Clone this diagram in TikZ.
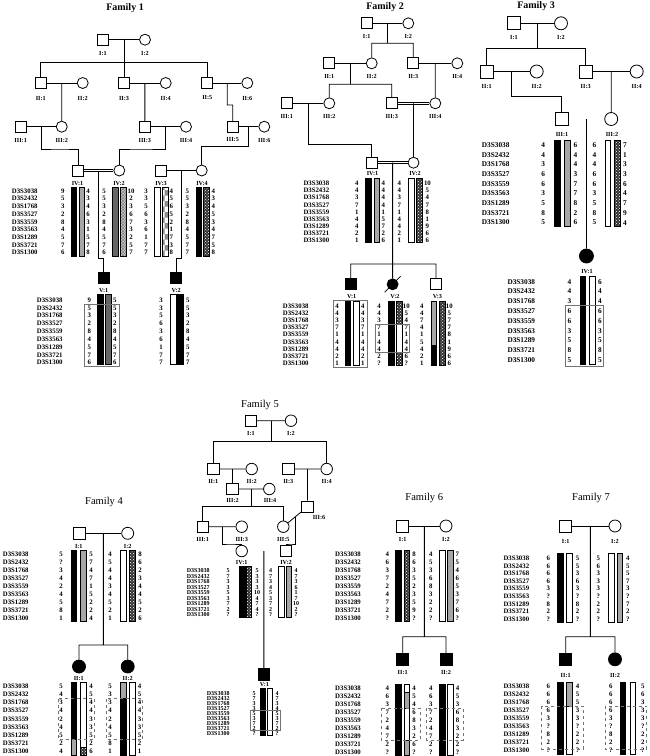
\documentclass[tikz,border=0pt]{standalone}
\usepackage{fontspec}
\setmainfont{Liberation Serif}
\usepackage{tikz}
\usetikzlibrary{patterns,calc}

\newcommand{\mkfont}{\fontsize{6.8}{7}\selectfont\bfseries}
\newcommand{\mkbig}{\fontsize{7.3}{8}\selectfont\bfseries}
\newcommand{\mksmall}{\fontsize{6}{6}\selectfont\bfseries}
% marker names, allele columns and haplotype bars
\newcommand{\mklist}[4]{%
  \foreach \mname [count=\i from 0] in {D3S3038,D3S2432,D3S1768,D3S3527,D3S3559,D3S3563,D3S1289,D3S3721,D3S1300}
    \node[mk] (#1-\i) at (#2,#3+\i*#4) {\mname};}
\newcommand{\alist}[4]{%
  \foreach \aval [count=\i from 0] in {#4}
    \node[al] at (#1,#2+\i*#3) {\aval};}
\newcommand{\hapbar}[4]{\draw[#1] (#2,#3) rectangle (#2+5.5,#4);}

\tikzset{
  ind/.style={draw, line width=0.8pt, inner sep=0pt, minimum size=11},
  male/.style={ind, rectangle},
  female/.style={ind, circle},
  aff/.style={fill=black},
  ped/.style={line width=0.8pt},
  cons/.style={double, double distance=1.4pt, line width=0.6pt},
  ttl/.style={font=\fontsize{10}{12}\selectfont\bfseries},
  ttlr/.style={font=\fontsize{10.5}{12}\selectfont},
  idl/.style={font=\fontsize{6.2}{7}\selectfont\bfseries, inner sep=0pt},
  mk/.style={font=\mkfont, anchor=west, inner sep=0pt},
  al/.style={font=\mkfont, inner sep=0pt},
  blk/.style={draw=black, line width=0.5pt, fill=black},
  wht/.style={draw=black, line width=0.6pt, fill=white},
  gry/.style={draw=black, line width=0.6pt, fill=black!35},
  dgry/.style={draw=black, line width=0.6pt, fill=black!60},
  hatch/.style={draw=black, line width=0.6pt, preaction={fill=black!80}, pattern=crosshatch dots, pattern color=white},
  lhatch/.style={draw=black, line width=0.6pt, preaction={fill=black!20}, pattern=crosshatch, pattern color=black!50},
  chk/.style={draw=black, line width=0.6pt, preaction={fill=white}, pattern=checkerboard, pattern color=black!45},
  hapbox/.style={draw=black!55, line width=0.7pt},
  dbox/.style={draw=black!55, dashed, line width=0.6pt},
}

\begin{document}
\begin{tikzpicture}[x=1pt,y=-1pt]
\useasboundingbox (0,0) rectangle (649,756);

% Family 1
\node[ttl] (t1) at (125,8) {Family 1};
\node[male] (a11) at (103,39.7) {};
\node[female] (a12) at (145,39.7) {};
\node[idl] at (103,53) {I:1};
\node[idl] at (145,53) {I:2};
\node[male] (a21) at (40.8,83) {};
\node[female] (a22) at (82.7,83) {};
\node[male] (a23) at (124,83) {};
\node[female] (a24) at (165.7,83) {};
\node[male] (a25) at (207.3,83) {};
\node[female] (a26) at (247.3,83) {};
\foreach \n/\x in {1/40.8,2/82.7,3/124,4/165.7,5/207.3,6/247.3}
  \node[idl] at (\x,98) {II:\n};
\node[male] (a31) at (20.7,126.7) {};
\node[female] (a32) at (61.75,126.7) {};
\node[male] (a33) at (144.85,126.7) {};
\node[female] (a34) at (186,126.7) {};
\node[male] (a35) at (232.7,126.7) {};
\node[female] (a36) at (264.3,126.7) {};
\foreach \n/\x in {1/20.7,2/61.75,3/144.85,4/186,5/232.7,6/264.3}
  \node[idl] at (\x,140) {III:\n};
\node[male] (a41) at (78,170.5) {};
\node[female] (a42) at (119.3,170.5) {};
\node[male] (a43) at (161,170.5) {};
\node[female] (a44) at (201.7,170.5) {};
\node[male, aff] (a51) at (103.8,278.3) {};
\node[male, aff] (a52) at (176.2,278.3) {};

\draw[ped] (a11) -- (a12) (a21) -- (a22) (a23) -- (a24) (a25) -- (a26);
\draw[ped] (a31) -- (a32) (a33) -- (a34) (a35) -- (a36) (a43) -- (a44);
\draw[cons] (a41) -- (a42);
\coordinate (a1m) at ($(a11)!0.5!(a12)$);
\coordinate (a1s) at (124,62.3);
\draw[ped] (a1m) -- (a23) (a21) |- (a1s) -| (a25);
\coordinate (a2m1) at ($(a21)!0.5!(a22)$);
\coordinate (a2m2) at ($(a23)!0.5!(a24)$);
\coordinate (a2m3) at ($(a25)!0.5!(a26)$);
\coordinate (a2j) at (230,105);
\draw[ped] (a2m1) -- (a32) (a2m2) -- (a33) (a2m3) |- (a2j) -| (a35);
\coordinate (a3m1) at ($(a31)!0.5!(a32)$);
\coordinate (a3m2) at ($(a33)!0.5!(a34)$);
\coordinate (a3m3) at ($(a35)!0.5!(a36)$);
\coordinate (a3j1) at (60,149);
\coordinate (a3j2) at (140,149);
\coordinate (a3j3) at (225,146.7);
\draw[ped] (a3m1) |- (a3j1) -| (a41) (a3m2) |- (a3j2) -| (a42) (a3m3) |- (a3j3) -| (a44);
\coordinate (a4m1) at ($(a41)!0.5!(a42)$);
\coordinate (a4m2) at ($(a43)!0.5!(a44)$);
\coordinate (a4j1) at (101,258.3);
\coordinate (a4j2) at (178,258.3);
\draw[ped] (a4m1) |- (a4j1) -| (a51) (a4m2) |- (a4j2) -| (a52);

\mklist{m1a}{11.7}{191}{7.7}
\node[idl] at (77.5,183.3) {IV:1};
\alist{62.7}{191}{7.7}{9,5,3,2,8,4,5,7,6}
\hapbar{blk}{71}{187.3}{256}
\hapbar{gry}{79}{187.3}{256}
\alist{88}{191}{7.7}{4,3,4,6,3,1,5,7,8}
\node[idl] at (119,183.3) {IV:2};
\alist{104}{191}{7.7}{5,5,3,2,8,4,5,7,6}
\hapbar{dgry}{112.5}{187.3}{256}
\hapbar{lhatch}{120.5}{187.3}{256}
\alist{131}{191}{7.7}{10,2,3,6,7,3,2,5,7}
\node[idl] at (161,183.3) {IV:3};
\alist{146}{191}{7.7}{3,3,5,6,3,6,1,7,7}
\hapbar{wht}{154.3}{187.3}{256}
\hapbar{chk}{162.3}{187.3}{256}
\alist{171.3}{191}{7.7}{4,5,6,5,2,1,7,3,8}
\node[idl] at (202,183.3) {IV:4};
\alist{187.3}{191}{7.7}{5,5,3,2,8,4,5,7,7}
\hapbar{blk}{196}{187.3}{256}
\hapbar{hatch}{203.3}{187.3}{256}
\alist{213.3}{191}{7.7}{4,3,4,5,3,4,7,5,8}

\mklist{m1b}{36.7}{300}{7.83}
\node[idl] at (103.7,290.3) {V:1};
\alist{89.3}{300}{7.83}{9,5,3,2,8,4,5,7,6}
\hapbar{blk}{97.3}{294.3}{364.3}
\hapbar{dgry}{105.3}{294.3}{364.3}
\alist{114.7}{300}{7.83}{5,5,3,2,8,4,5,7,6}
\draw[hapbox] (84.3,303.9) rectangle (119.7,366.7);
\node[idl] at (176.2,290.3) {V:2};
\alist{161}{300}{7.83}{3,3,5,6,3,6,1,7,7}
\hapbar{wht}{170.7}{294.3}{364.3}
\hapbar{blk}{177.7}{294.3}{364.3}
\alist{187.7}{300}{7.83}{5,5,3,2,8,4,5,7,7}

% Family 2
\node[ttl] (t2) at (385,7) {Family 2};
\node[male] (b11) at (366.7,23.3) {};
\node[female] (b12) at (408.3,23.3) {};
\node[idl] at (366.7,36) {I:1};
\node[idl] at (408.3,36) {I:2};
\node[male] (b21) at (329.3,63.3) {};
\node[female] (b22) at (371.7,63.3) {};
\node[male] (b23) at (413.3,63.3) {};
\node[female] (b24) at (457.3,63.3) {};
\foreach \n/\x in {1/329.3,2/371.7,3/413.3,4/457.3}
  \node[idl] at (\x,76) {II:\n};
\node[male] (b31) at (286.7,103.3) {};
\node[female] (b32) at (329.3,103.3) {};
\node[male] (b33) at (391.7,103.3) {};
\node[female] (b34) at (435.3,103.3) {};
\foreach \n/\x in {1/286.7,2/329.3,3/391.7,4/435.3}
  \node[idl] at (\x,116.7) {III:\n};
\node[male] (b41) at (371.7,162.7) {};
\node[female] (b42) at (413.5,162.7) {};
\node[male, aff] (b51) at (350.7,284.3) {};
\node[female, aff] (b52) at (392.6,284.3) {};
\node[male] (b53) at (436,284.3) {};
\draw[ped] ($(b52)+(-8,8)$) -- ($(b52)+(8,-8)$);

\draw[ped] (b11) -- (b12) (b21) -- (b22) (b23) -- (b24) (b31) -- (b32);
\draw[cons] (b33) -- (b34);
\draw[cons] (b41) -- (b42);
\coordinate (b1m) at ($(b11)!0.5!(b12)$);
\coordinate (b1s) at (387.5,43.3);
\draw[ped] (b1m) -- (b1s) (b22) |- (b1s) -| (b23);
\coordinate (b2m1) at ($(b21)!0.5!(b22)$);
\coordinate (b2s) at (350.5,84.3);
\draw[ped] (b2m1) -- (b2s) (b32) |- (b2s) -| (b33);
\coordinate (b2m2) at ($(b23)!0.5!(b24)$);
\draw[ped] (b2m2) -- (b34);
\coordinate (b3m1) at ($(b31)!0.5!(b32)$);
\coordinate (b3j1) at (340,144.3);
\draw[ped] (b3m1) |- (b3j1) -| (b41);
\coordinate (b3m2) at ($(b33)!0.5!(b34)$);
\draw[ped] (b3m2) -- (b42);
\coordinate (b4m) at ($(b41)!0.5!(b42)$);
\coordinate (b5s) at (392.6,264);
\draw[ped] (b4m) -- (b52) (b51) |- (b5s) -| (b53);

\mklist{m2a}{303.3}{183.3}{7.17}
\node[idl] at (372.5,173.8) {IV:1};
\alist{356.7}{183.3}{7.17}{4,4,3,7,1,4,4,2,1}
\hapbar{blk}{365.7}{178.3}{242.7}
\hapbar{gry}{374}{178.3}{242.7}
\alist{383.4}{183.3}{7.17}{4,4,4,4,1,5,7,2,6}
\node[idl] at (415,173.8) {IV:2};
\alist{399.3}{183.3}{7.17}{4,4,3,7,1,4,4,2,1}
\hapbar{wht}{408.3}{178.3}{242.7}
\hapbar{hatch}{416.7}{178.3}{242.7}
\alist{427.4}{183.3}{7.17}{10,5,4,7,8,1,9,6,6}

\mklist{m2b}{282.7}{306}{7.17}
\node[idl] at (351.7,296.5) {V:1};
\alist{337}{306}{7.17}{4,4,3,7,1,4,4,2,1}
\hapbar{blk}{345}{301}{365}
\hapbar{wht}{353.3}{301}{365}
\alist{362.7}{306}{7.17}{4,4,3,7,1,4,4,2,1}
\draw[hapbox] (333.3,300) rectangle (366.9,367.3);
\node[idl] at (395,296.5) {V:2};
\alist{379}{306}{7.17}{4,4,3,7,1,4,4,2,?}
\hapbar{blk}{388.3}{301}{365}
\hapbar{hatch}{396.5}{301}{323.9}
\hapbar{wht}{396.5}{323.9}{352.6}
\hapbar{hatch}{396.5}{352.6}{365}
\alist{406.3}{306}{7.17}{10,5,4,7,1,4,4,6,?}
\draw[hapbox] (375.7,323.9) rectangle (409.7,352.6);
\node[idl] at (437.5,296.5) {V:3};
\alist{421.7}{306}{7.17}{4,4,7,4,1,5,4,2,1}
\hapbar{gry}{431}{301}{345.4}
\hapbar{blk}{431}{345.4}{365}
\hapbar{hatch}{439.3}{301}{365}
\alist{449.3}{306}{7.17}{10,5,7,7,8,1,9,6,6}

% Family 3
\begin{scope}[ind/.append style={minimum size=13}, mk/.append style={font=\mkbig}, al/.append style={font=\mkbig}]
\node[ttl] (t3) at (536,6) {Family 3};
\node[male] (c11) at (514,23.3) {};
\node[female] (c12) at (561,23.3) {};
\node[idl] at (514,37.7) {I:1};
\node[idl] at (561,37.7) {I:2};
\node[male] (c21) at (486.7,71.5) {};
\node[female] (c22) at (536.7,71.5) {};
\node[male] (c23) at (585.7,71.5) {};
\node[female] (c24) at (636.7,71.5) {};
\foreach \n/\x in {1/486.7,2/536.7,3/585.7,4/636.7}
  \node[idl] at (\x,86) {II:\n};
\node[male] (c31) at (561.7,119) {};
\node[female] (c32) at (611.2,119) {};
\node[idl] at (562,134) {III:1};
\node[idl] at (612,134) {III:2};
\node[female, aff, minimum size=14] (c41) at (586.45,256) {};
\node[idl] at (587,271) {IV:1};

\draw[ped] (c11) -- (c12) (c21) -- (c22) (c23) -- (c24);
\draw[cons] (c31) -- (c32);
\coordinate (c1m) at ($(c11)!0.5!(c12)$);
\coordinate (c1s) at (537.5,48.3);
\draw[ped] (c1m) -- (c1s) (c21) |- (c1s) -| (c23);
\coordinate (c2m1) at ($(c21)!0.5!(c22)$);
\coordinate (c2j) at (540,96.7);
\draw[ped] (c2m1) |- (c2j) -| (c31);
\coordinate (c2m2) at ($(c23)!0.5!(c24)$);
\draw[ped] (c2m2) -- (c32);
\coordinate (c3m) at ($(c31)!0.5!(c32)$);
\draw[ped] (c3m) -- (c41);

\mklist{m3a}{481.7}{145}{9.7}
\alist{543.3}{145}{9.7}{4,4,3,6,6,3,5,8,5}
\hapbar{blk}{554.3}{140}{226.7}
\hapbar{gry}{564.3}{140}{226.7}
\alist{575.5}{145}{9.7}{6,4,4,3,7,7,8,2,6}
\alist{594.5}{145}{9.7}{6,4,4,6,6,3,5,8,5}
\hapbar{wht}{605}{140}{226.7}
\hapbar{hatch}{614.3}{140}{226.7}
\alist{625}{145}{9.7}{7,1,3,3,6,4,7,9,4}

\mklist{m3b}{507.3}{281.7}{9.8}
\alist{569.5}{281.7}{9.8}{4,4,3,6,6,3,5,8,5}
\hapbar{blk}{580}{276.7}{364}
\hapbar{wht}{589.3}{276.7}{364}
\alist{600}{281.7}{9.8}{6,4,4,6,6,3,5,8,5}
\draw[hapbox] (565.7,305.7) rectangle (603.5,366);
\end{scope}

% Family 4
\begin{scope}[ind/.append style={minimum size=12}]
\node[ttlr] (t4) at (104,502.3) {Family 4};
\node[male] (d11) at (79,533.3) {};
\node[female] (d12) at (127.7,533.3) {};
\node[idl] at (78.8,546.3) {I:1};
\node[idl] at (127.7,546.3) {I:2};
\node[female, aff, minimum size=13] (d21) at (79,666.5) {};
\node[female, aff, minimum size=13] (d22) at (127.7,666.5) {};
\node[idl] at (78.8,678.8) {II:1};
\node[idl] at (127.7,678.8) {II:2};
\draw[ped] (d11) -- (d12);
\coordinate (d1m) at ($(d11)!0.5!(d12)$);
\coordinate (d1s) at (103.35,645);
\draw[ped] (d1m) -- (d1s) (d21) |- (d1s) -| (d22);

\mklist{m4a}{2.7}{554}{8.03}
\alist{61}{554}{8.03}{5,?,3,4,2,4,5,8,1}
\hapbar{blk}{71}{550}{621.7}
\hapbar{gry}{80.7}{550}{621.7}
\alist{91}{554}{8.03}{5,7,4,7,1,5,2,2,4}
\alist{110}{554}{8.03}{4,5,4,4,3,4,5,2,1}
\hapbar{wht}{120.7}{550}{621.7}
\hapbar{hatch}{129.3}{550}{621.7}
\alist{140}{554}{8.03}{8,6,2,3,4,4,5,2,6}

\mklist{m4b}{2.7}{686.3}{8.15}
\alist{61}{686.3}{8.15}{5,4,3,4,2,4,5,2,4}
\hapbar{blk}{71}{682.5}{739.4}
\hapbar{gry}{71}{739.4}{755}
\hapbar{wht}{80.7}{682.5}{747.5}
\hapbar{hatch}{80.7}{747.5}{755}
\alist{91}{686.3}{8.15}{4,5,4,4,3,3,5,2,6}
\draw[dbox] (58.5,698.5) rectangle (94.2,739.4);
\alist{110}{686.3}{8.15}{5,3,3,4,2,4,5,8,1}
\hapbar{gry}{120.7}{682.5}{698.5}
\hapbar{blk}{120.7}{698.5}{755}
\hapbar{wht}{129.3}{682.5}{755}
\alist{139.5}{686.3}{8.15}{4,5,4,4,3,3,5,2,1}
\draw[dbox] (106.5,698.5) rectangle (142.7,739.4);
\end{scope}

% Family 5
\begin{scope}[ind/.append style={minimum size=11.5}, mk/.append style={font=\mksmall}, al/.append style={font=\mksmall}]
\node[ttlr] (t5) at (260,405) {Family 5};
\node[male] (e11) at (251,420.7) {};
\node[female] (e12) at (291,420.7) {};
\node[idl] at (251,433.3) {I:1};
\node[idl] at (291,433.3) {I:2};
\node[male] (e21) at (213.3,469) {};
\node[female] (e22) at (251.7,469) {};
\node[male] (e23) at (288.3,469) {};
\node[female] (e24) at (326.7,469) {};
\foreach \n/\x in {1/213.3,2/251.7,3/288.3,4/326.7}
  \node[idl] at (\x,481.7) {II:\n};
\node[male] (e32) at (232.5,489) {};
\node[female] (e34) at (269.3,489) {};
\node[idl] at (232.5,500.5) {III:2};
\node[idl] at (270,500.5) {III:4};
\node[male] (e31) at (202.7,526.7) {};
\node[female] (e33) at (241.7,526.7) {};
\node[female] (e35) at (283.3,526.7) {};
\node[male] (e36) at (307.5,506.7) {};
\foreach \n/\x in {1/202.7,3/241.7,5/283.3}
  \node[idl] at (\x,539.3) {III:\n};
\node[idl] at (319,517.7) {III:6};
\node[female] (e41) at (241.7,551) {};
\node[male] (e42) at (286,551) {};
\node[idl] at (241.7,562.5) {IV:1};
\node[idl] at (286,562.5) {IV:2};
\node[male, aff] (e51) at (263.85,674.3) {};
\node[idl] at (264.5,684.6) {V:1};

\draw[ped] (e11) -- (e12) (e21) -- (e22) (e23) -- (e24) (e32) -- (e34) (e31) -- (e33) (e35) -- (e36);
\draw[cons] (e41) -- (e42);
\coordinate (e1m) at ($(e11)!0.5!(e12)$);
\coordinate (e1s) at (271,441.7);
\draw[ped] (e1m) -- (e1s) (e21) |- (e1s) -| (e24);
\coordinate (e2m1) at ($(e21)!0.5!(e22)$);
\coordinate (e2m2) at ($(e23)!0.5!(e24)$);
\draw[ped] (e2m1) -- (e32) (e2m2) -- (e36);
\coordinate (e3m1) at ($(e32)!0.5!(e34)$);
\coordinate (e3s) at (250.9,506.7);
\draw[ped] (e3m1) -- (e3s) (e31) |- (e3s) -| (e35);
\coordinate (e3m2) at ($(e31)!0.5!(e33)$);
\coordinate (e3m3) at ($(e35)!0.5!(e36)$);
\coordinate (e3j1) at (230,544);
\coordinate (e3j2) at (290,544);
\draw[ped] (e3m2) |- (e3j1) -| (e41) (e3m3) |- (e3j2) -| (e42);
\coordinate (e4m) at ($(e41)!0.5!(e42)$);
\draw[ped] (e4m) -- (e51);

\mklist{m5a}{186.7}{570.7}{5.54}
\alist{228}{570.7}{5.54}{5,7,3,3,5,3,7,2,?}
\hapbar{blk}{239.3}{566.7}{617.5}
\hapbar{hatch}{246.2}{566.7}{617.5}
\alist{257.2}{570.7}{5.54}{5,3,3,3,10,4,7,4,?}
\alist{270.7}{570.7}{5.54}{4,7,3,4,5,3,7,2,?}
\hapbar{wht}{278.3}{566.7}{617.5}
\hapbar{gry}{286}{566.7}{617.5}
\alist{296}{570.7}{5.54}{4,7,3,6,1,7,10,2,?}

\mklist{m5b}{206.7}{693.3}{5.0}
\alist{254}{693.3}{5.0}{5,7,3,3,5,3,7,2,?}
\hapbar{blk}{260}{688.3}{735.5}
\hapbar{wht}{266.8}{688.3}{735.5}
\alist{277.2}{693.3}{5.0}{4,7,3,4,5,3,7,2,?}
\draw[hapbox] (250.3,710.8) rectangle (280.7,730.8);
\end{scope}

% Family 6
\begin{scope}[ind/.append style={minimum size=12}]
\node[ttlr] (t6) at (424.3,498.3) {Family 6};
\node[male] (f11) at (402.7,526) {};
\node[female] (f12) at (446,526) {};
\node[idl] at (402.7,539.3) {I:1};
\node[idl] at (446,539.3) {I:2};
\node[male, aff] (f21) at (402.7,659.3) {};
\node[male, aff] (f22) at (446,659.3) {};
\node[idl] at (402.7,672.7) {II:1};
\node[idl] at (446,672.7) {II:2};
\draw[ped] (f11) -- (f12);
\coordinate (f1m) at ($(f11)!0.5!(f12)$);
\coordinate (f1s) at (424.35,636.7);
\draw[ped] (f1m) -- (f1s) (f21) |- (f1s) -| (f22);

\mklist{m6a}{335}{554.3}{8.04}
\alist{387.3}{554.3}{8.04}{4,6,3,7,2,4,7,2,?}
\hapbar{blk}{395.7}{550}{621}
\hapbar{hatch}{404}{550}{621}
\alist{414}{554.3}{8.04}{8,6,3,5,2,3,5,9,?}
\alist{430.7}{554.3}{8.04}{4,5,3,6,8,3,2,2,?}
\hapbar{wht}{439.3}{550}{621}
\hapbar{gry}{447.3}{550}{621}
\alist{457.3}{554.3}{8.04}{7,5,4,6,5,3,7,6,?}

\mklist{m6b}{335}{688}{8.0}
\alist{387.3}{688}{8.0}{4,6,3,7,2,4,7,2,?}
\hapbar{blk}{395.7}{684}{755.5}
\hapbar{wht}{404}{684}{692}
\hapbar{gry}{404}{692}{708}
\hapbar{wht}{404}{708}{740}
\hapbar{gry}{404}{740}{755.5}
\alist{414}{688}{8.0}{4,5,4,6,8,3,2,6,?}
\draw[dbox] (381,708) rectangle (420,740);
\alist{430.7}{688}{8.0}{4,6,3,7,2,4,7,2,?}
\hapbar{blk}{439.3}{684}{755.5}
\hapbar{wht}{447.3}{684}{755.5}
\alist{457.5}{688}{8.0}{4,5,3,6,8,3,2,2,?}
\draw[dbox] (426.5,708) rectangle (462.9,740);
\end{scope}

% Family 7
\begin{scope}[ind/.append style={minimum size=12}]
\node[ttlr] (t7) at (591,497.7) {Family 7};
\node[male] (g11) at (565.7,526) {};
\node[female] (g12) at (615,526) {};
\node[idl] at (565.7,541.5) {I:1};
\node[idl] at (615,541.5) {I:2};
\node[male, aff] (g21) at (565.7,659.3) {};
\node[female, aff, minimum size=13] (g22) at (615,659.3) {};
\node[idl] at (565.7,675) {II:1};
\node[idl] at (615,675) {II:2};
\draw[ped] (g11) -- (g12);
\coordinate (g1m) at ($(g11)!0.5!(g12)$);
\coordinate (g1s) at (590.35,636.7);
\draw[ped] (g1m) -- (g1s) (g21) |- (g1s) -| (g22);

\mklist{m7a}{503.3}{558.3}{7.6}
\alist{548.3}{558.3}{7.6}{6,6,6,6,3,?,8,2,?}
\hapbar{blk}{557.7}{553.3}{622.3}
\hapbar{wht}{566.7}{553.3}{622.3}
\alist{577.5}{558.3}{7.6}{5,5,3,6,3,?,8,2,?}
\alist{598.3}{558.3}{7.6}{5,6,3,3,3,?,2,2,?}
\hapbar{wht}{608.3}{553.3}{622.3}
\hapbar{gry}{617}{553.3}{622.3}
\alist{627.7}{558.3}{7.6}{4,5,5,7,3,?,7,2,?}

\mklist{m7b}{503.3}{686.7}{7.9}
\alist{548.3}{686.7}{7.9}{6,6,6,6,3,?,8,2,?}
\hapbar{blk}{557.7}{682.7}{754}
\hapbar{gry}{566.7}{682.7}{706.45}
\hapbar{wht}{566.7}{706.45}{754}
\alist{577.5}{686.7}{7.9}{4,5,5,3,3,?,2,2,?}
\draw[dbox] (541.7,706.45) rectangle (583.3,749);
\alist{610.7}{686.7}{7.9}{6,6,6,6,3,?,8,2,?}
\hapbar{blk}{620}{682.7}{754}
\hapbar{wht}{630}{682.7}{754}
\alist{642.7}{686.7}{7.9}{5,6,3,3,3,?,2,2,?}
\draw[dbox] (605,706.45) rectangle (646.7,749);
\end{scope}
\end{tikzpicture}
\end{document}
